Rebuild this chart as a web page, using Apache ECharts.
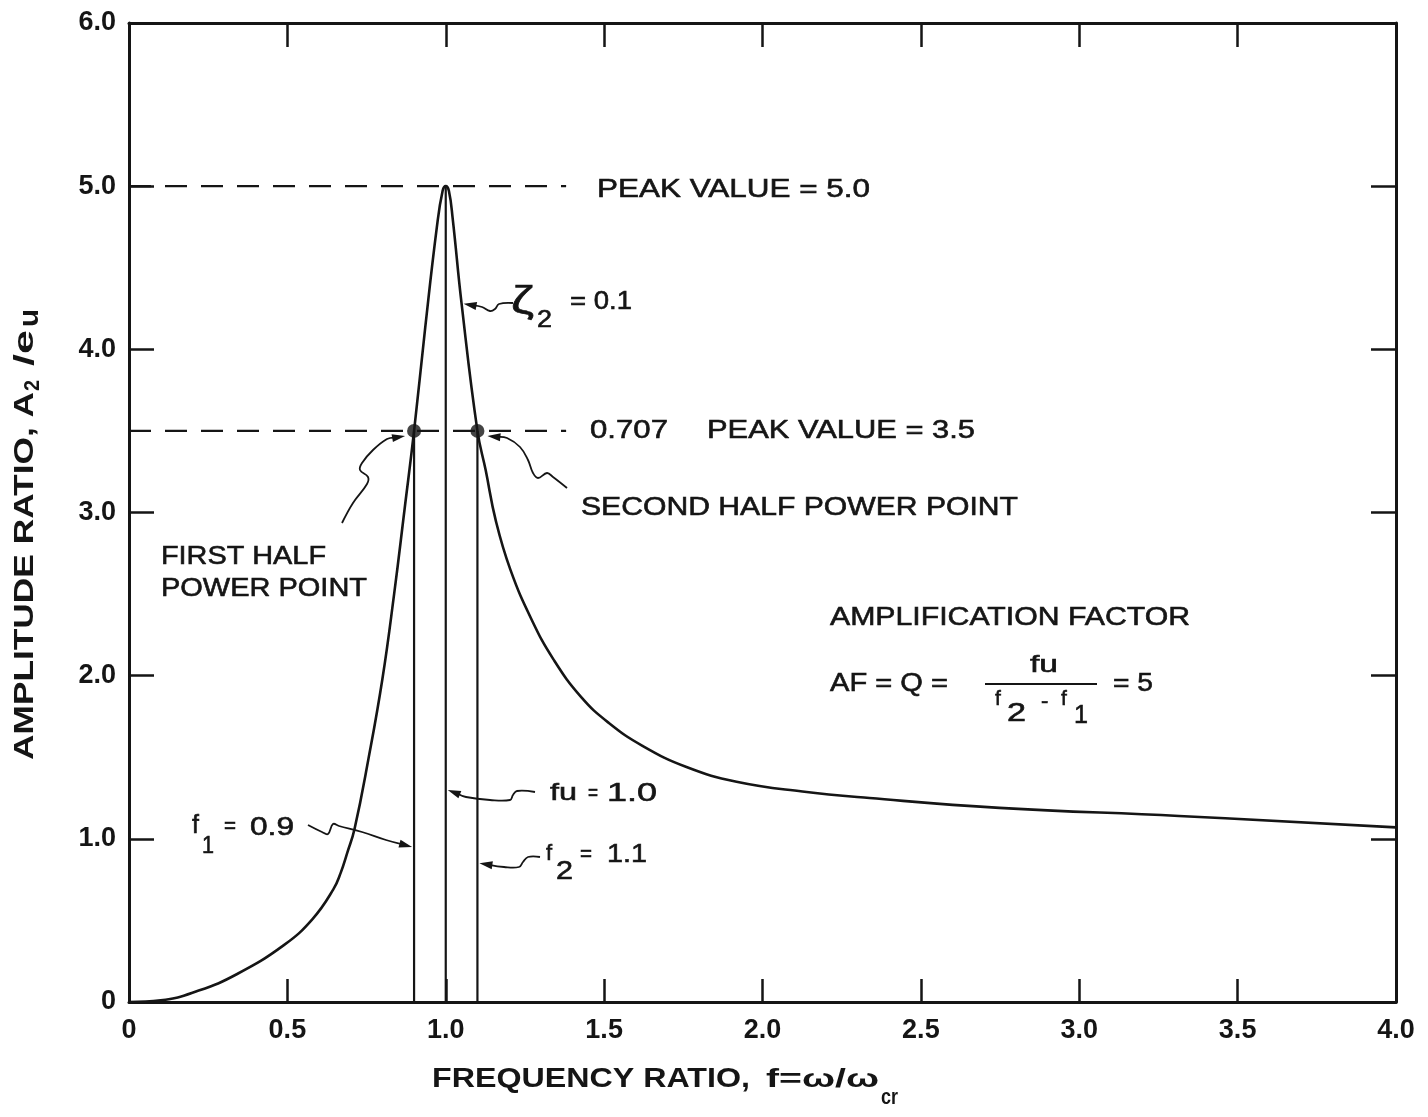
<!DOCTYPE html>
<html>
<head>
<meta charset="utf-8">
<script src="https://cdn.jsdelivr.net/npm/echarts@6/dist/echarts.min.js"></script>
<style>
  html, body { margin: 0; padding: 0; background: #ffffff; }
  #chart { width: 1428px; height: 1117px; }
</style>
</head>
<body>
<div id="chart"></div>
<script>
// Amplitude ratio of a rotor versus frequency ratio, damping ratio 0.1

// Tick labels
const xTickLabels = ['0', '0.5', '1.0', '1.5', '2.0', '2.5', '3.0', '3.5', '4.0'];
const yTickLabels = ['0', '1.0', '2.0', '3.0', '4.0', '5.0', '6.0'];

// Response curve: frequency ratio f and amplitude ratio A2/eu
const freqRatio = [0, 0.1, 0.22, 0.34, 0.49, 0.58, 0.645, 0.668, 0.69, 0.712, 0.755, 0.8, 0.837, 0.87, 0.9, 0.935, 0.972, 0.99, 1.0,
  1.01, 1.022, 1.05, 1.1, 1.126, 1.158, 1.204, 1.272, 1.34, 1.427, 1.515, 1.621, 1.76, 1.918, 2.126, 2.338, 2.748, 3.315, 4.0];
const ampRatio = [0, 0.01, 0.07, 0.17, 0.35, 0.51, 0.69, 0.79, 0.92, 1.06, 1.48, 1.98, 2.5, 3.02, 3.5, 4.13, 4.75, 4.97, 5.0,
  4.97, 4.8, 4.28, 3.5, 3.26, 2.95, 2.65, 2.34, 2.10, 1.87, 1.71, 1.57, 1.44, 1.35, 1.29, 1.25, 1.19, 1.14, 1.07];

// Reference levels and characteristic frequencies
const peakValue = 5.0;
const halfPowerValue = 3.5;
const f1 = 0.9;
const fu = 1.0;
const f2 = 1.1;
const guideEnd = 1.38;   // dashed guides run from f = 0 to here

const INK = '#151515';
const FONT = '"Liberation Sans", Arial, Helvetica, sans-serif';

const chart = echarts.init(document.getElementById('chart'), null, { renderer: 'canvas' });

const frameLine = { show: true, onZero: false, lineStyle: { color: INK, width: 3 } };
const tick = (len) => ({ show: true, inside: true, length: len, lineStyle: { color: INK, width: 2.5 } });
const tickFont = { color: INK, fontFamily: FONT, fontSize: 27, fontWeight: 'bold' };

function segment(a, b, width, type) {
  return {
    type: 'line', data: [a, b], showSymbol: false, silent: true, z: 3,
    lineStyle: { color: INK, width: width, type: type || 'solid' }
  };
}

const option = {
  animation: false,
  backgroundColor: '#ffffff',
  grid: { left: 129, right: 32, top: 23, bottom: 115, containLabel: false, outerBoundsMode: 'none' },
  xAxis: [
    {
      type: 'value', position: 'bottom', min: 0, max: 4, interval: 0.5,
      axisLine: frameLine, axisTick: tick(23), splitLine: { show: false },
      axisLabel: Object.assign({ margin: 15, formatter: (v) => xTickLabels[Math.round(v / 0.5)] }, tickFont)
    },
    {
      type: 'value', position: 'top', min: 0, max: 4, interval: 0.5,
      axisLine: frameLine, axisTick: tick(24), splitLine: { show: false }, axisLabel: { show: false }
    }
  ],
  yAxis: [
    {
      type: 'value', position: 'left', min: 0, max: 6, interval: 1,
      axisLine: frameLine, axisTick: tick(25), splitLine: { show: false },
      axisLabel: Object.assign({ margin: 13, formatter: (v) => yTickLabels[Math.round(v)] }, tickFont)
    },
    {
      type: 'value', position: 'right', min: 0, max: 6, interval: 1,
      axisLine: frameLine, axisTick: tick(25), splitLine: { show: false }, axisLabel: { show: false }
    }
  ],
  series: [
    segment([0, peakValue], [guideEnd, peakValue], 2.2, [22, 14]),
    segment([0, halfPowerValue], [guideEnd, halfPowerValue], 2.2, [22, 14]),
    segment([f1, 0], [f1, halfPowerValue], 2.2),
    segment([fu, 0], [fu, peakValue], 2.2),
    segment([f2, 0], [f2, halfPowerValue], 2.2),
    {
      type: 'line', name: 'response', z: 4, silent: true,
      data: freqRatio.map((f, i) => [f, ampRatio[i]]),
      showSymbol: false, smooth: 0.45,
      lineStyle: { color: INK, width: 2.6 }
    },
    {
      type: 'scatter', z: 5, silent: true, symbol: 'circle', symbolSize: 14,
      itemStyle: { color: INK },
      data: [[f1, halfPowerValue], [f2, halfPowerValue]]
    }
  ]
};
chart.setOption(option);

// ---- annotation layer ----
const px = (f, a) => chart.convertToPixel({ xAxisIndex: 0, yAxisIndex: 0 }, [f, a]);
const ctx = document.createElement('canvas').getContext('2d');
function textWidth(str, size, weight) {
  ctx.font = `${weight} ${size}px ${FONT}`;
  return ctx.measureText(str).width;
}
// text piece: left edge x, vertical centre y, optional stretched width
function label(str, x, y, opt) {
  opt = opt || {};
  const size = opt.size || 26;
  const weight = opt.weight || 'normal';
  const sx = opt.width ? opt.width / textWidth(str, size, weight) : 1;
  return {
    type: 'text', x: x, y: y, scaleX: sx, rotation: opt.rotation || 0, silent: true, z: 10,
    style: {
      text: str, x: 0, y: 0, fill: INK,
      font: `${weight} ${size}px ${FONT}`,
      align: 'left', verticalAlign: 'middle',
      textAlign: 'left', textVerticalAlign: 'middle',
      stroke: INK, lineWidth: opt.stroke == null ? 0.6 : opt.stroke
    }
  };
}
// wavy leader ending in a filled arrowhead at the last point
function arrow(pts) {
  const n = pts.length;
  const tip = pts[n - 1], prev = pts[n - 2];
  const dx = tip[0] - prev[0], dy = tip[1] - prev[1];
  const L = Math.hypot(dx, dy), ux = dx / L, uy = dy / L;
  const hl = 13, hw = 8;
  const bx = tip[0] - ux * hl, by = tip[1] - uy * hl;
  const head = [[tip[0], tip[1]], [bx - uy * hw / 2, by + ux * hw / 2], [bx + uy * hw / 2, by - ux * hw / 2]];
  const shaft = pts.slice(0, n - 1).concat([[bx + ux * 3, by + uy * 3]]);
  return [
    { type: 'polyline', silent: true, z: 9, shape: { points: shaft, smooth: 0.4 }, style: { stroke: INK, lineWidth: 1.8, fill: null } },
    { type: 'polygon', silent: true, z: 9, shape: { points: head }, style: { fill: INK } }
  ];
}

const tF1 = px(f1, 0.95), tFu = px(fu, 1.3), tF2 = px(f2, 0.85), tZeta = px(1.05, 4.28);
const d1 = px(f1, halfPowerValue), d2 = px(f2, halfPowerValue);

const graphics = [].concat(
  // peak and half-power levels
  label('PEAK VALUE = 5.0', 597, 190, { width: 273 }),
  label('0.707', 590, 431, { width: 78 }),
  label('PEAK VALUE = 3.5', 707, 431, { width: 268 }),
  label('SECOND HALF POWER POINT', 581, 508, { width: 437 }),
  label('FIRST HALF', 161, 557, { width: 165 }),
  label('POWER POINT', 161, 589, { width: 206 }),
  // damping ratio
  label('ζ', 511, 303, { size: 38, width: 23 }),
  label('2', 537, 321, { size: 23, width: 15 }),
  label('= 0.1', 570, 302, { width: 62 }),
  // amplification factor
  label('AMPLIFICATION FACTOR', 830, 618, { width: 360 }),
  label('AF = Q =', 830, 684, { width: 118 }),
  label('fu', 1030, 665, { size: 24, width: 28 }),
  label('f', 995, 699, { size: 21 }),
  label('2', 1007, 714, { size: 26, width: 19 }),
  label('-', 1041, 702, { size: 22 }),
  label('f', 1061, 699, { size: 21 }),
  label('1', 1074, 716, { size: 26, width: 14 }),
  label('= 5', 1113, 684, { width: 40 }),
  { type: 'rect', silent: true, z: 10, shape: { x: 985, y: 683, width: 112, height: 2 }, style: { fill: INK } },
  // characteristic frequencies
  label('f', 192, 826, { size: 25 }),
  label('1', 202, 846, { size: 24, width: 12 }),
  label('=', 224, 827, { size: 22, width: 12 }),
  label('0.9', 250, 828, { width: 44 }),
  label('fu', 550, 793, { size: 24, width: 27 }),
  label('=', 588, 794, { size: 22, width: 10 }),
  label('1.0', 607, 794, { width: 50 }),
  label('f', 546, 854, { size: 22 }),
  label('2', 556, 872, { size: 26, width: 17 }),
  label('=', 580, 855, { size: 22, width: 12 }),
  label('1.1', 607, 855, { width: 40 }),
  // axis titles
  label('FREQUENCY RATIO,', 432, 1080, { size: 27, weight: 'bold', width: 318, stroke: 0 }),
  label('f=ω/ω', 766, 1080, { size: 26, weight: 'bold', width: 113, stroke: 0 }),
  label('cr', 881, 1098, { size: 22, weight: 'bold', width: 17, stroke: 0 }),
  label('AMPLITUDE RATIO, A', 25, 760, { size: 28, weight: 'bold', width: 368, rotation: Math.PI / 2, stroke: 0 }),
  label('2', 33, 391, { size: 22, weight: 'bold', width: 11, rotation: Math.PI / 2, stroke: 0 }),
  label(' /e', 25, 378, { size: 28, weight: 'bold', width: 48, rotation: Math.PI / 2, stroke: 0 }),
  label('u', 30, 327, { size: 28, weight: 'bold', width: 18, rotation: Math.PI / 2, stroke: 0 }),
  // leaders
  arrow([[308, 825], [322, 832], [328, 834], [333, 824], [339, 826], [362, 832], [386, 840], [tF1[0] - 2, tF1[1]]]),
  arrow([[535, 792], [517, 791], [513, 795], [510, 800], [490, 800], [466, 797], [tFu[0] + 2, tFu[1]]]),
  arrow([[540, 857], [528, 857], [523, 862], [519, 867], [504, 867], [tF2[0] + 2, tF2[1]]]),
  arrow([[513, 303], [499, 304], [495, 309], [490, 311], [482, 307], [tZeta[0] + 2, tZeta[1]]]),
  arrow([[342, 523], [353, 503], [367, 484], [368, 477], [360, 470], [362, 463], [373, 450], [387, 439], [d1[0] - 9, d1[1] + 5]]),
  arrow([[567, 488], [553, 477], [547, 473], [538, 478], [533, 473], [528, 460], [520, 447], [507, 438], [d2[0] + 10, d2[1] + 5]])
);

chart.setOption({ graphic: { elements: graphics } });
</script>
</body>
</html>
